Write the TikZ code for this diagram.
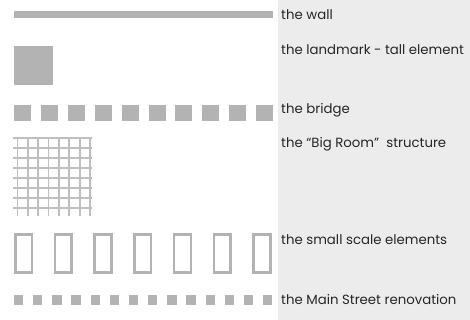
\documentclass[tikz,border=0pt]{standalone}
\usepackage{fontspec}
\setmainfont{Poppins}
\definecolor{shapec}{HTML}{B3B3B3}
\definecolor{gridc}{HTML}{BEBEBE}
\definecolor{panel}{HTML}{ECECEC}
\definecolor{txt}{HTML}{262626}
\begin{document}
\begin{tikzpicture}[x=1pt,y=-1pt,
  lbl/.style={anchor=west,inner sep=0pt,text=txt,font=\fontsize{13.3}{15}\selectfont}]
\useasboundingbox (0,0) rectangle (470,320);
\fill[white] (0,0) rectangle (470,320);
\fill[panel] (277.5,0) rectangle (470,320);
% wall
\fill[shapec] (14,11) rectangle (273,18);
% landmark
\fill[shapec] (14,46) rectangle (53,85);
% bridge
\foreach \i in {0,...,9}{\fill[shapec] ({14+\i*26.9},105) rectangle ({31+\i*26.9},121);}
% big room grid
\foreach \i in {0,...,7}{\draw[gridc,line width=1.8] ({17.5+\i*10.36},137) -- ({17.5+\i*10.36},215.5);}
\foreach \j in {0,...,7}{\draw[gridc,line width=1.8] (13.3,{137.7+\j*10.09}) -- (91.7,{137.7+\j*10.09});}
% small scale elements
\foreach \i in {0,...,6}{\draw[shapec,line width=2.6] ({15.3+\i*39.7},234.6) rectangle ({32+\i*39.7},272.7);}
% main street
\foreach \i in {0,...,13}{\fill[shapec] ({14+\i*19.15},295.3) rectangle ({23.3+\i*19.15},304.7);}
% labels
\node[lbl] (wall) at (281,15) {the wall};
\node[lbl] (landmark) at (281,49.5) {the landmark - tall element};
\node[lbl] (bridge) at (281,110) {the bridge};
\node[lbl] (bigroom) at (281,144.5) {the “Big Room”\ \ structure};
\node[lbl] (small) at (281,239.5) {the small scale elements};
\node[lbl] (mainst) at (281,299) {the Main Street renovation};
\end{tikzpicture}
\end{document}
